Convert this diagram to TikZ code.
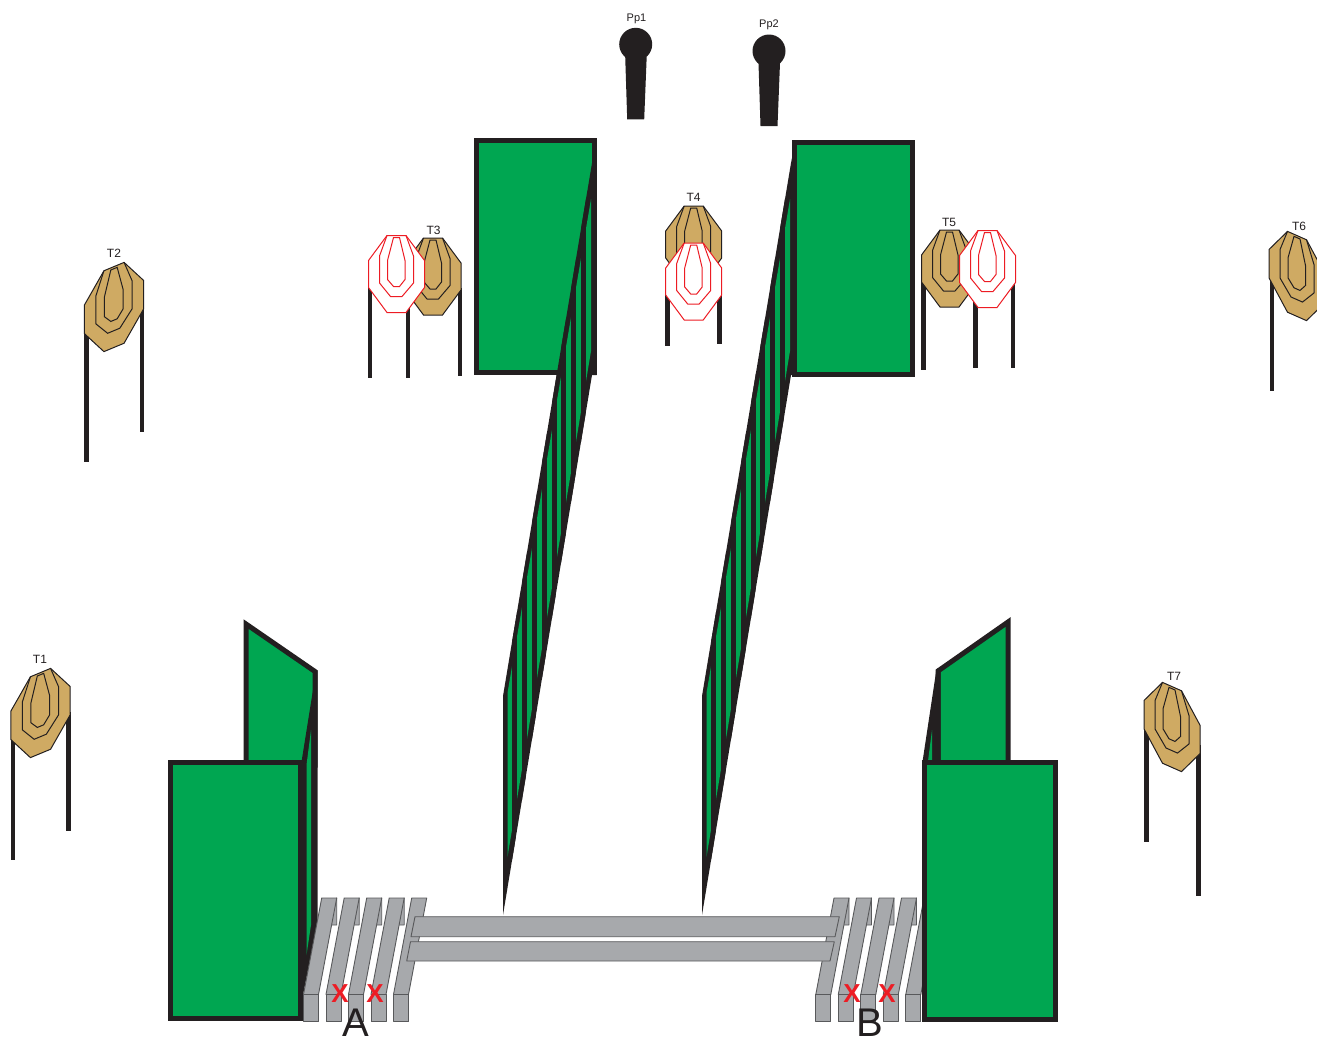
\documentclass[tikz,border=0pt]{standalone}
\usepackage{fontspec}
\setmainfont{Liberation Sans}
\usepackage{xcolor}
\usetikzlibrary{positioning, calc}
\definecolor{wallgreen}{HTML}{00A651}
\definecolor{inkblack}{HTML}{231F20}
\definecolor{boardtan}{HTML}{CFAA63}
\definecolor{barrelgray}{HTML}{A7A9AC}
\definecolor{edgegray}{HTML}{58595B}
\definecolor{markred}{HTML}{ED1C24}

\begin{document}
\begin{tikzpicture}[
    x=1pt, y=-1pt,
    wall/.style={draw=inkblack, line width=5pt, fill=wallgreen},
    leg/.style={draw=inkblack, line width=4.7pt},
    slat/.style={draw=edgegray, line width=0.9pt, fill=barrelgray, line join=round},
    lbl/.style={font=\fontsize{12}{12}\selectfont, text=inkblack, inner sep=0pt},
    pplbl/.style={font=\fontsize{11}{11}\selectfont, text=inkblack, inner sep=0pt},
    cross/.style={font=\fontsize{26}{26}\selectfont\bfseries, text=markred, inner sep=0pt},
    gate/.style={font=\fontsize{40}{40}\selectfont, text=inkblack, inner sep=0pt, anchor=base},
    pics/plate/.style 2 args={code={
        \filldraw[draw=#1, fill=#2, line width=1pt] (-9.5,-38.5) -- (9.5,-38.5) -- (28,-13.5) -- (28,13.5) -- (9.5,38.5) -- (-9.5,38.5) -- (-28,13.5) -- (-28,-13.5) -- cycle;
        \draw[draw=#1, line width=1pt] (-9.5,-38.5) -- (-17,-18) -- (-17,9) -- (-6,22.5) -- (5.5,22.5) -- (17,9) -- (17,-18) -- (9.5,-38.5);
        \draw[draw=#1, line width=1pt] (-3,-36.5) -- (3,-36.5) -- (8.5,-13.5) -- (8.5,5.5) -- (3,12.5) -- (-3,12.5) -- (-9,5.5) -- (-9,-13.5) -- cycle;
    }},
    pics/shooter/.style={code={
        \fill[inkblack] (0,0) circle (16.5);
        \fill[inkblack] (-10.5,12) -- (11,12) -- (8.5,75) -- (-8.5,75) -- cycle;
    }},
    pics/slatwall/.style={code={
        \fill[inkblack] (503,696) -- (592,163) -- (596.5,140) -- (596.5,375) -- (592,375) -- (503,915) -- cycle;
        \fill[wallgreen] (507.5,693) -- (591,199) -- (591,351) -- (507.5,857) -- cycle;
        \begin{scope}
            \clip (503,696) -- (592,163) -- (596.5,140) -- (596.5,375) -- (592,375) -- (503,915) -- cycle;
            \foreach \k in {1,...,8}
                \draw[inkblack, line width=5pt] ({504.5+9.9*\k},150) -- ({504.5+9.9*\k},915);
        \end{scope}
    }},
    pics/slats/.style={code={
        \foreach \k in {0,...,3}
            \filldraw[slat] ({336.7+22.5*\k},898) -- ({336.7+22.5*\k},925) -- ({325+22.5*\k},925) -- cycle;
        \foreach \k in {0,...,4} {
            \filldraw[slat] ({321.7+22.5*\k},898) -- ({336.7+22.5*\k},898) -- ({318.5+22.5*\k},994.5) -- ({303.5+22.5*\k},994.5) -- cycle;
            \filldraw[slat] ({303.5+22.5*\k},994.5) rectangle ({318.5+22.5*\k},1021.5);
        }
    }},
]
\useasboundingbox (0,0) rectangle (1317,1037);

% Target stands
\foreach \x/\ya/\yb in {13/735/860, 68.5/712/831, 86.5/330/462, 142/306/432,
    370/285/378, 408/290/378, 460/288/376, 667.5/285/346, 719.5/285/344,
    923.5/276/370, 975.5/290/368, 1013/276/368, 1272/265/391,
    1146.5/722/842, 1198.5/745/896}
    \draw[leg] (\x,\ya) -- (\x,\yb);

% Targets
\pic[xscale=1.06, yscale=1.05, yslant=0.42] at (40.5,713) {plate={inkblack}{boardtan}};
\pic[xscale=1.06, yscale=1.05, yslant=0.42] at (114,307) {plate={inkblack}{boardtan}};
\pic at (433,276.5) {plate={inkblack}{boardtan}};
\pic at (396.5,274) {plate={markred}{white}};
\pic at (693.7,244.5) {plate={inkblack}{boardtan}};
\pic at (693.7,281.5) {plate={markred}{white}};
\pic at (949.5,268.5) {plate={inkblack}{boardtan}};
\pic at (987.5,269) {plate={markred}{white}};
\pic[yscale=1.05, yslant=-0.42] at (1297,276) {plate={inkblack}{boardtan}};
\pic[yscale=1.05, yslant=-0.42] at (1172,727) {plate={inkblack}{boardtan}};

\node[lbl] (tone) at (40,659) {T1};
\node[lbl] (ttwo) at (114,253) {T2};
\node[lbl] (tthree) at (433.5,230.5) {T3};
\node[lbl] (tfour) at (693.5,197) {T4};
\node[lbl] (tfive) at (949,222.5) {T5};
\node[lbl] (tsix) at (1299,226) {T6};
\node[lbl] (tseven) at (1174,676) {T7};

% Shooters
\pic at (635.7,44.3) {shooter};
\pic at (769,51) {shooter};
\node[pplbl] (ppone) at (636.5,19) {Pp1};
\node[pplbl] (pptwo) at (769,25) {Pp2};

% Far walls
\draw[wall] (476,140) rectangle (594.5,372.5);
\draw[wall] (794,142) rectangle (912.5,374.5);
\pic at (0,0) {slatwall};
\pic at (199,0) {slatwall};

% Near left wall
\draw[wall] (246,624) -- (315,671.5) -- (315,765) -- (246,765) -- cycle;
\fill[inkblack] (301,765) -- (313,690) -- (317.5,670) -- (317.5,923) -- (303,995) -- cycle;
\fill[wallgreen] (306.5,765) -- (311,730) -- (311,925) -- (306.5,955) -- cycle;

% Near right wall
\draw[wall] (938,671) -- (1008,622) -- (1008,765) -- (938,765) -- cycle;
\fill[inkblack] (922,765) -- (936.5,669) -- (940.5,667) -- (940.5,765) -- cycle;
\fill[wallgreen] (927.5,765) -- (932,730) -- (932,765) -- cycle;

% Barrels
\pic at (0,0) {slats};
\pic at (512.3,0) {slats};

\draw[wall] (170,762.5) rectangle (300,1018.7);
\draw[wall] (924,762.5) rectangle (1055,1019);

% Rails
\filldraw[slat] (415,916.7) -- (839.3,916.7) -- (835,936.7) -- (411,936.7) -- cycle;
\filldraw[slat] (410.5,941.7) -- (834.3,941.7) -- (830,961) -- (406.7,961) -- cycle;

% Marks and gates
\node[cross] (xone) at (340,993.5) {X};
\node[cross] (xtwo) at (375,993.5) {X};
\node[cross] (xthree) at (852,993.5) {X};
\node[cross] (xfour) at (887,993.5) {X};
\node[gate] (gatea) at (355.5,1036) {A};
\node[gate] (gateb) at (869.5,1036) {B};
\end{tikzpicture}
\end{document}
